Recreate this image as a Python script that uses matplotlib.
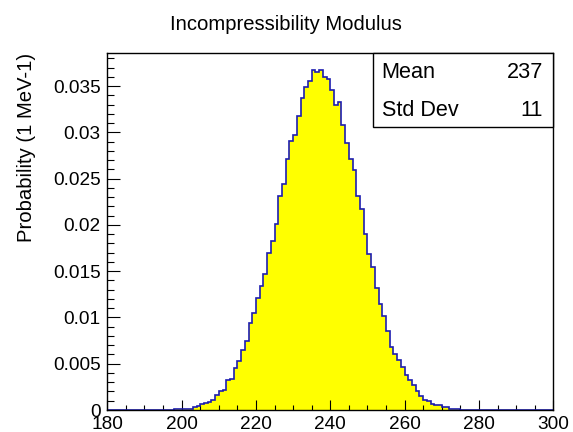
import matplotlib
matplotlib.use("Agg")
import matplotlib.pyplot as plt
from matplotlib.patches import Rectangle
import numpy as np

# histogram: 1 MeV bins from 180 to 300, probability per bin
first_bin = 198
probs = [
    0.0001, 0.0001, 0.0001, 0.0001, 0.00012,                      # 198-202
    0.0003, 0.00043, 0.00065, 0.0008, 0.00085,                    # 203-207
    0.0011, 0.0016, 0.0021, 0.0022, 0.0032,                       # 208-212
    0.0034, 0.0045, 0.0053, 0.0065, 0.0075,                       # 213-217
    0.0094, 0.0105, 0.0121, 0.0134, 0.0147,                       # 218-222
    0.0170, 0.0183, 0.0201, 0.0231, 0.0244,                       # 223-227
    0.0271, 0.0291, 0.0297, 0.0318, 0.0337,                       # 228-232
    0.0349, 0.0355, 0.0367, 0.0365, 0.0367,                       # 233-237
    0.0360, 0.0358, 0.0346, 0.0329, 0.0333,                       # 238-242
    0.0308, 0.0288, 0.0271, 0.0259, 0.0231,                       # 243-247
    0.0217, 0.0190, 0.0169, 0.0155, 0.0132,                       # 248-252
    0.0115, 0.0102, 0.0085, 0.0068, 0.0060,                       # 253-257
    0.0054, 0.0046, 0.0038, 0.0032, 0.0027,                       # 258-262
    0.0021, 0.0015, 0.0011, 0.00093, 0.0007,                      # 263-267
    0.00055, 0.0005, 0.0003, 0.00028, 0.00013,                    # 268-272
    0.00012, 0.0001,                                              # 273-274
]
x_min, x_max = 180, 300

xticks = [180, 200, 220, 240, 260, 280, 300]
yticks = [0, 0.005, 0.01, 0.015, 0.02, 0.025, 0.03, 0.035]
ytick_labels = ["0", "0.005", "0.01", "0.015", "0.02", "0.025", "0.03", "0.035"]

title = "Incompressibility Modulus"
ylabel = "Probability (1 MeV-1)"
stat_names = ["Mean", "Std Dev"]
stat_values = ["237", "11"]

plt.rcParams['font.family'] = ['Liberation Sans', 'DejaVu Sans']

edges = np.arange(x_min, x_max + 1)
values = np.zeros(len(edges) - 1)
values[first_bin - x_min:first_bin - x_min + len(probs)] = probs

fig = plt.figure(figsize=(5.73, 4.32), dpi=100)
ax_l, ax_r, ax_b, ax_t = 0.1873, 0.9656, 0.0509, 0.8766
ax = fig.add_axes([ax_l, ax_b, ax_r - ax_l, ax_t - ax_b])

ax.stairs(values, edges, fill=True, color="#ffff00", zorder=1)
ax.stairs(values, edges, color="#1c1cb0", lw=1.2, zorder=2)

ax.set_xlim(x_min, x_max)
ax.set_ylim(0, 1.05 * max(probs))

ax.set_xticks(xticks)
ax.set_xticklabels([str(t) for t in xticks])
ax.set_xticks(np.arange(x_min, x_max + 1, 5), minor=True)
ax.set_yticks(yticks)
ax.set_yticklabels(ytick_labels)
ax.set_yticks(np.arange(0, 0.0385, 0.001), minor=True)

ax.tick_params(axis="x", which="major", direction="in", length=7.2, width=0.8,
               labelsize=13.7, pad=4)
ax.tick_params(axis="x", which="minor", direction="in", length=3.6, width=0.8)
ax.tick_params(axis="y", which="major", direction="in", length=9.7, width=0.8,
               labelsize=13.7, pad=5)
ax.tick_params(axis="y", which="minor", direction="in", length=4.9, width=0.8)
ax.tick_params(top=False, right=False, which="both")
for s in ax.spines.values():
    s.set_linewidth(1.0)

fig.text(0.4991, 0.944, title, ha="center", va="center", fontsize=14.6)
fig.text(27 / 573, ax_t, ylabel, rotation=90, ha="center", va="top", fontsize=14.6)

# stats box
bx0 = 373.3 / 573
by0 = (432 - 126.7) / 432
fig.patches.append(Rectangle((bx0, by0), ax_r - bx0, ax_t - by0, transform=fig.transFigure,
                             facecolor="white", edgecolor="black", lw=1.0, zorder=5))
rows_y = [(432 - 73) / 432, (432 - 110) / 432]
for name, val, yy in zip(stat_names, stat_values, rows_y):
    fig.text(381.7 / 573, yy, name, ha="left", va="center", fontsize=15.6, zorder=6)
    fig.text(543 / 573, yy, val, ha="right", va="center", fontsize=15.6, zorder=6)

fig.savefig("out.png", dpi=100)
